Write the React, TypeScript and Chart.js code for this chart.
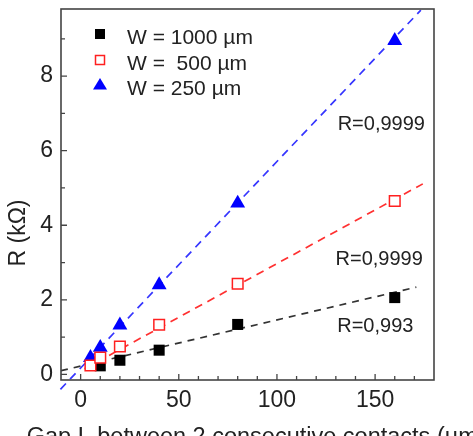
import React, { useEffect, useRef } from 'react';
import { Chart, registerables } from 'chart.js';

Chart.register(...registerables);

// ---- data ----
const gapL = [5, 10, 20, 40, 80, 160];
const gapL1000 = [10, 20, 40, 80, 160];
const r1000 = [0.23, 0.38, 0.65, 1.34, 2.06];
const r500 = [0.24, 0.45, 0.75, 1.33, 2.43, 4.65];
const r250 = [0.45, 0.72, 1.32, 2.4, 4.59, 8.95];

const fit1000X = [-10, 171];
const fit1000Y = [0.1, 2.34];
const fit500X = [2, 174.3];
const fit500Y = [0.15, 5.11];
const fit250X = [-10.3, 173.3];
const fit250Y = [-0.4, 9.77];

const seriesLabels = ['W = 1000 µm', 'W =  500 µm', 'W = 250 µm'];
const fitTexts = ['R=0,9999', 'R=0,9999', 'R=0,993'];
const fitTextX = [175.4, 174.3, 169.5];
const fitTextY = [6.56, 2.94, 1.14];

const xMajorTicks = [0, 50, 100, 150];
const xMinorTicks = [10, 20, 30, 40, 60, 70, 80, 90, 110, 120, 130, 140, 160, 170];
const yMajorTicks = [0, 2, 4, 6, 8];
const yMinorTicks = [1, 3, 5, 7, 9];

const xTitle = 'Gap L between 2 consecutive contacts (µm)';
const yTitle = 'R (kΩ)';

const FAMILY = '"Liberation Sans", Arial, sans-serif';
const TEXT = '#222';

const toPts = (xs: number[], ys: number[]) => xs.map((x, i) => ({ x, y: ys[i] }));

const decorPlugin = {
  id: 'decor',
  afterDraw(chart: any) {
    const { ctx, chartArea: a, scales } = chart;
    const xs = scales.x;
    const ys = scales.y;
    ctx.save();
    // frame
    ctx.strokeStyle = '#444';
    ctx.lineWidth = 1.6;
    ctx.strokeRect(a.left, a.top, a.right - a.left, a.bottom - a.top);
    // inward ticks
    ctx.beginPath();
    xMajorTicks.forEach((v) => {
      const p = xs.getPixelForValue(v);
      ctx.moveTo(p, a.bottom);
      ctx.lineTo(p, a.bottom - 6);
    });
    xMinorTicks.forEach((v) => {
      const p = xs.getPixelForValue(v);
      ctx.moveTo(p, a.bottom);
      ctx.lineTo(p, a.bottom - 4);
    });
    yMajorTicks.forEach((v) => {
      const p = ys.getPixelForValue(v);
      ctx.moveTo(a.left, p);
      ctx.lineTo(a.left + 6, p);
    });
    yMinorTicks.forEach((v) => {
      const p = ys.getPixelForValue(v);
      ctx.moveTo(a.left, p);
      ctx.lineTo(a.left + 4, p);
    });
    ctx.lineWidth = 1.3;
    ctx.stroke();

    // fit annotations
    ctx.fillStyle = TEXT;
    ctx.font = `20px ${FAMILY}`;
    ctx.textAlign = 'right';
    ctx.textBaseline = 'alphabetic';
    fitTexts.forEach((t, i) => {
      ctx.fillText(t, xs.getPixelForValue(fitTextX[i]), ys.getPixelForValue(fitTextY[i]));
    });

    // legend
    const mx = a.left + 39;
    const tx = a.left + 66;
    const rows = [a.top + 25, a.top + 51, a.top + 76];
    ctx.textAlign = 'left';
    ctx.font = `21px ${FAMILY}`;
    ctx.fillStyle = '#000';
    ctx.fillRect(mx - 5, rows[0] - 5, 10, 10);
    ctx.fillStyle = '#fff';
    ctx.fillRect(mx - 4.5, rows[1] - 4.5, 9, 9);
    ctx.strokeStyle = '#ff2020';
    ctx.lineWidth = 1.5;
    ctx.strokeRect(mx - 4.5, rows[1] - 4.5, 9, 9);
    ctx.fillStyle = '#0000ff';
    ctx.beginPath();
    ctx.moveTo(mx, rows[2] - 7);
    ctx.lineTo(mx + 7, rows[2] + 4.5);
    ctx.lineTo(mx - 7, rows[2] + 4.5);
    ctx.closePath();
    ctx.fill();
    ctx.fillStyle = TEXT;
    seriesLabels.forEach((l, i) => ctx.fillText(l, tx, rows[i] + 9.5));

    // axis titles
    ctx.font = `23.5px ${FAMILY}`;
    ctx.textAlign = 'left';
    ctx.fillText(xTitle, a.left - 34.3, a.bottom + 63.5);
    ctx.save();
    ctx.translate(25, a.top + 224);
    ctx.rotate(-Math.PI / 2);
    ctx.textAlign = 'center';
    ctx.font = `23px ${FAMILY}`;
    ctx.fillText(yTitle, 0, 0);
    ctx.restore();
    ctx.restore();
  },
};

export default function App() {
  const ref = useRef<HTMLCanvasElement>(null);
  useEffect(() => {
    if (!ref.current) return;
    const lineDs = (label: string, xs: number[], ys: number[], color: string, dash: number[], clip: any) => ({
      type: 'line' as const,
      label,
      data: toPts(xs, ys),
      borderColor: color,
      borderWidth: 1.7,
      borderDash: dash,
      pointRadius: 0,
      showLine: true,
      fill: false,
      order: 2,
      clip,
    });
    const chart = new Chart(ref.current, {
      type: 'scatter',
      data: {
        datasets: [
          {
            label: seriesLabels[0],
            data: toPts(gapL1000, r1000),
            pointStyle: 'rect',
            pointRadius: 7.8,
            backgroundColor: '#000',
            borderColor: '#000',
            borderWidth: 0,
            order: 1,
          },
          {
            label: seriesLabels[1],
            data: toPts(gapL, r500),
            pointStyle: 'rect',
            pointRadius: 7.5,
            backgroundColor: '#fff',
            borderColor: '#ff2020',
            borderWidth: 1.5,
            order: 0,
          },
          {
            label: seriesLabels[2],
            data: toPts(gapL, r250),
            pointStyle: 'triangle',
            pointRadius: 8.6,
            backgroundColor: '#0000ff',
            borderColor: '#0000ff',
            borderWidth: 0,
            order: 0,
          },
          lineDs('fit 1000', fit1000X, fit1000Y, '#333', [7, 6], undefined),
          lineDs('fit 500', fit500X, fit500Y, '#ff3030', [8, 6], undefined),
          lineDs('fit 250', fit250X, fit250Y, '#3535ff', [8, 6], false),
        ] as any,
      },
      options: {
        animation: false,
        responsive: false,
        maintainAspectRatio: false,
        layout: { padding: { top: 7, right: 39, left: 0, bottom: 0 } },
        plugins: { legend: { display: false }, tooltip: { enabled: false } },
        scales: {
          x: {
            type: 'linear',
            min: -10,
            max: 180,
            grid: { display: false, drawTicks: false },
            border: { display: false },
            ticks: { font: { size: 23, family: FAMILY }, color: TEXT, padding: 7, maxRotation: 0 },
            afterBuildTicks: (s: any) => {
              s.ticks = xMajorTicks.map((v) => ({ value: v }));
            },
            afterFit: (s: any) => {
              s.height = 70;
              s.paddingLeft = 0;
              s.paddingRight = 0;
              s.paddingTop = 0;
              s.paddingBottom = 0;
            },
          },
          y: {
            type: 'linear',
            min: -0.15,
            max: 9.8,
            grid: { display: false, drawTicks: false },
            border: { display: false },
            ticks: { font: { size: 23, family: FAMILY }, color: TEXT, padding: 8 },
            afterBuildTicks: (s: any) => {
              s.ticks = yMajorTicks.map((v) => ({ value: v }));
            },
            afterFit: (s: any) => {
              s.width = 61;
              s.paddingLeft = 0;
              s.paddingRight = 0;
              s.paddingTop = 0;
              s.paddingBottom = 0;
            },
          },
        },
      } as any,
      plugins: [decorPlugin],
    });
    return () => chart.destroy();
  }, []);
  return (
    <div style={{ position: 'fixed', left: 0, top: 0, width: 473, height: 450, background: '#fff' }}>
      <canvas ref={ref} width={473} height={450} style={{ display: 'block' }} />
    </div>
  );
}
